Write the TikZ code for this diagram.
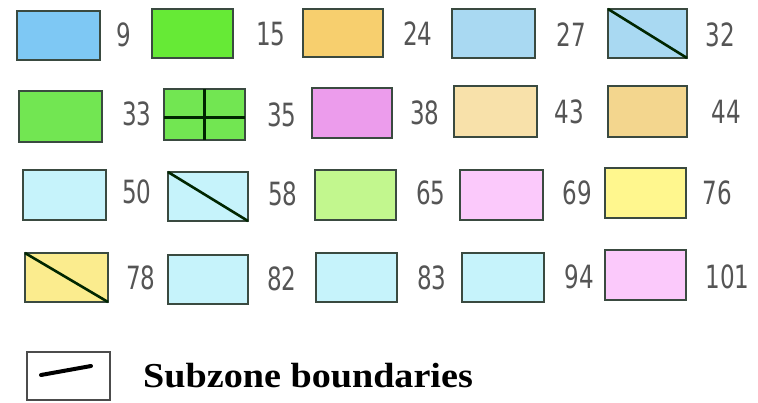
\documentclass[tikz,border=0pt]{standalone}
\usepackage{fontspec}
\setmainfont{Liberation Serif}
\newfontfamily\numfont{DejaVu Sans}
\definecolor{cA}{HTML}{7EC8F4}
\definecolor{cB}{HTML}{66EA36}
\definecolor{cC}{HTML}{F7CF6E}
\definecolor{cD}{HTML}{A9D9F2}
\definecolor{cE}{HTML}{72E652}
\definecolor{cF}{HTML}{EC9CEC}
\definecolor{cG}{HTML}{F8E1AA}
\definecolor{cH}{HTML}{F3D68E}
\definecolor{cI}{HTML}{C6F3FB}
\definecolor{cJ}{HTML}{C2F78E}
\definecolor{cK}{HTML}{FBC9FB}
\definecolor{cL}{HTML}{FFF78E}
\definecolor{cM}{HTML}{FBEC8E}
\definecolor{edge}{HTML}{3A4A40}
\definecolor{numgray}{HTML}{555555}
\tikzset{
  zonebox/.style={draw=edge, line width=1.4pt},
  numlab/.style={inner sep=0pt, text=numgray, font=\numfont\fontsize{32}{36}\selectfont, xscale=0.72},
  bline/.style={draw=black!85!green, line width=2.6pt},
}
\begin{document}
\begin{tikzpicture}[x=1pt,y=-1pt]
\useasboundingbox (0,0) rectangle (758,402);
% row 1
\draw[zonebox, fill=cA] (17,11) rectangle (100,60);
\node[numlab] (n9) at (123.5,35) {9};
\draw[zonebox, fill=cB] (152,9) rectangle (233,58);
\node[numlab] (n15) at (271,34) {15};
\draw[zonebox, fill=cC] (303,9) rectangle (383,57);
\node[numlab] (n24) at (418,34) {24};
\draw[zonebox, fill=cD] (452,9) rectangle (535,58);
\node[numlab] (n27) at (571,35) {27};
\draw[zonebox, fill=cD] (608,9) rectangle (687,58);
\draw[bline] (608,9) -- (687,58);
\node[numlab] (n32) at (720,35) {32};
% row 2
\draw[zonebox, fill=cE] (19,91) rectangle (102,142);
\node[numlab] (n33) at (137,114) {33};
\draw[zonebox, fill=cE] (164,89) rectangle (245,140);
\draw[bline, line width=3pt] (204,89) -- (204,140);
\draw[bline, line width=3pt] (164,117) -- (245,117);
\node[numlab] (n35) at (282,115) {35};
\draw[zonebox, fill=cF] (312,88) rectangle (392,138);
\node[numlab] (n38) at (425,113) {38};
\draw[zonebox, fill=cG] (454,86) rectangle (537,137);
\node[numlab] (n43) at (569,112) {43};
\draw[zonebox, fill=cH] (608,86) rectangle (687,137);
\node[numlab] (n44) at (726,112) {44};
% row 3
\draw[zonebox, fill=cI] (23,170) rectangle (106,220);
\node[numlab] (n50) at (137,192) {50};
\draw[zonebox, fill=cI] (168,172) rectangle (248,221);
\draw[bline] (168,172) -- (248,221);
\node[numlab] (n58) at (283,194) {58};
\draw[zonebox, fill=cJ] (315,170) rectangle (396,220);
\node[numlab] (n65) at (431,193) {65};
\draw[zonebox, fill=cK] (460,170) rectangle (543,220);
\node[numlab] (n69) at (577,193) {69};
\draw[zonebox, fill=cL] (605,168) rectangle (686,218);
\node[numlab] (n76) at (717,193) {76};
% row 4
\draw[zonebox, fill=cM] (25,253) rectangle (108,302);
\draw[bline] (25,253) -- (108,302);
\node[numlab] (n78) at (141,278) {78};
\draw[zonebox, fill=cI] (168,255) rectangle (248,304);
\node[numlab] (n82) at (282,279) {82};
\draw[zonebox, fill=cI] (316,253) rectangle (397,302);
\node[numlab] (n83) at (432,278) {83};
\draw[zonebox, fill=cI] (462,253) rectangle (544,302);
\node[numlab] (n94) at (579,277) {94};
\draw[zonebox, fill=cK] (605,250) rectangle (686,300);
\node[numlab] (n101) at (727.5,277) {101};
% legend
\draw[draw=black!70, line width=1.2pt, fill=white] (27,352) rectangle (110,400);
\draw[black, line width=4pt, line cap=round] (41,375) -- (91,366);
\node[inner sep=0pt, anchor=base west, font=\bfseries\fontsize{35}{40}\selectfont, xscale=1.09] (legtext) at (143,387) {Subzone boundaries};
\end{tikzpicture}
\end{document}
